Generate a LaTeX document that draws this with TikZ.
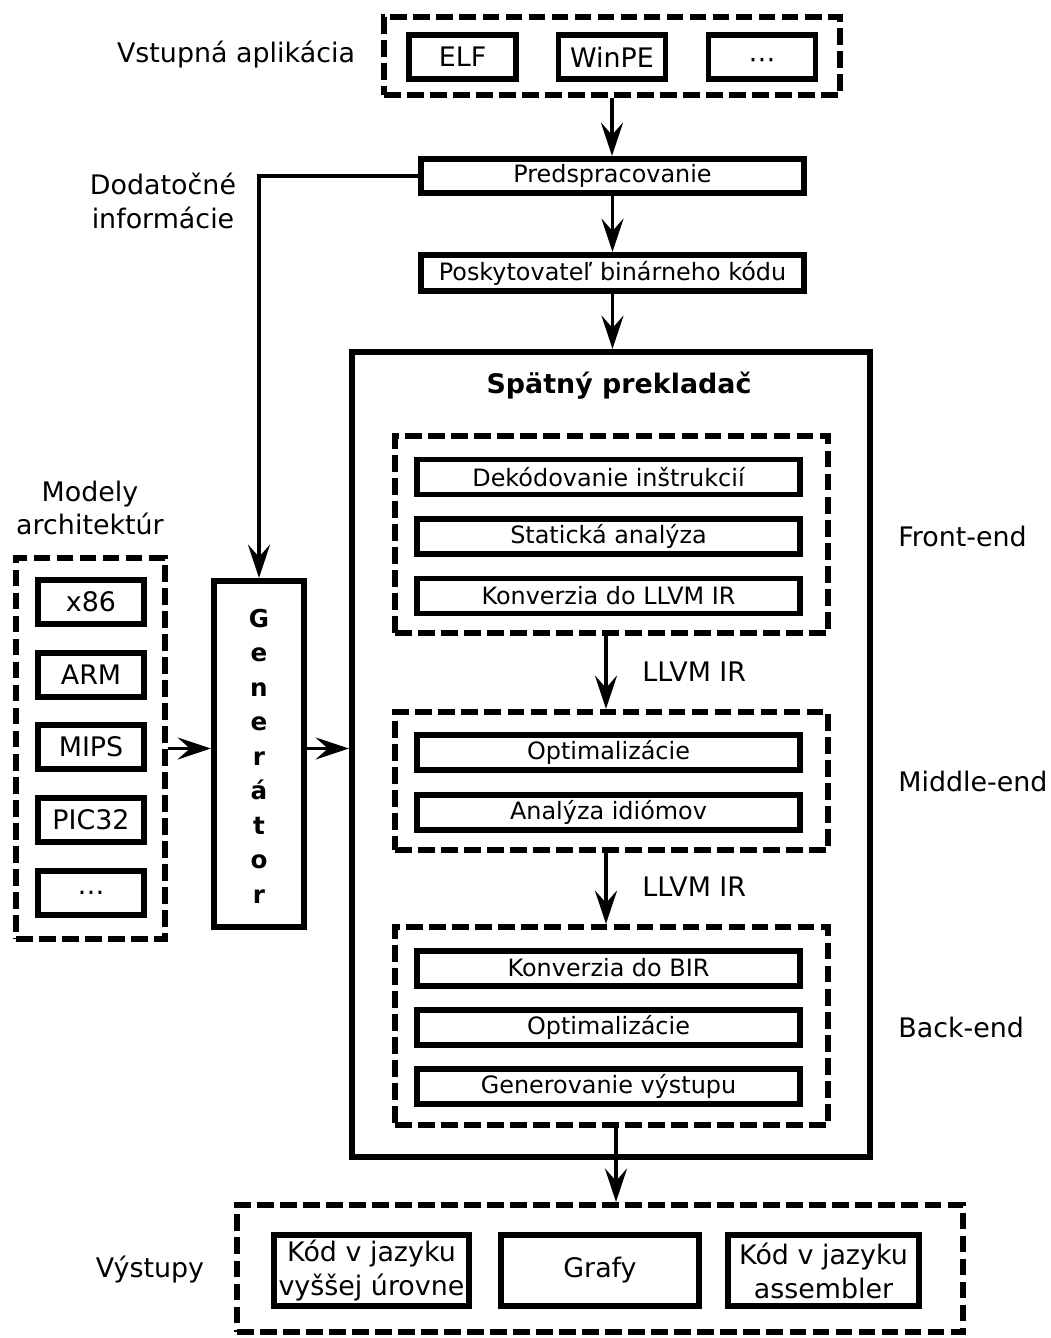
\documentclass[tikz,border=0pt]{standalone}
\usepackage{fontspec}
\setmainfont{DejaVu Sans}
\usetikzlibrary{arrows.meta}

\begin{document}
\begin{tikzpicture}[x=0.2mm,y=-0.2mm,
        box/.style 2 args={draw,line width=3.4pt,minimum width=#1*0.2mm,minimum height=#2*0.2mm,inner sep=0pt,align=center,font=\fontsize{15.3}{19.3}\selectfont},
        sbox/.style={box={383}{35},font=\fontsize{13.6}{16}\selectfont},
        grp/.style 2 args={draw,line width=3.4pt,dash pattern=on 9.5pt off 3.6pt,minimum width=#1*0.2mm,minimum height=#2*0.2mm,inner sep=0pt},
        lab/.style={font=\fontsize{15.3}{19.3}\selectfont,align=center,inner sep=0pt},
        arr/.style={-{Stealth[length=19pt,width=12.5pt,inset=7pt]},line width=2.2pt},
        genl/.style={font=\fontsize{14}{16}\bfseries,inner sep=0pt,anchor=base}]
    \useasboundingbox (0,0) rectangle (1051,1338);
    % vstup
    \node[grp={456}{78}] (inp) at (612,56) {};
    \node[box={107}{44}] (elf) at (462.5,57) {ELF};
    \node[box={107}{44}] (winpe) at (612,57) {WinPE};
    \node[box={107}{44}] (inmore) at (762,57) {};
    \node (inmoredots) at ([yshift=-1.2mm]inmore.center) {\fontsize{15.3}{19.3}\selectfont ⋯};
    \node[lab] (inlab) at (236,55) {Vstupná aplikácia};
    \node[box={383}{34},font=\fontsize{13.6}{16}\selectfont] (pre) at (612.5,176) {Predspracovanie};
    \node[box={383}{36},font=\fontsize{13.6}{16}\selectfont] (prov) at (612.5,273) {Poskytovateľ binárneho kódu};
    \node[lab] (addlab) at (163,201) {Dodatočné\\informácie};
    % spatny prekladac
    \node[box={518}{805}] (dec) at (611,754.5) {};
    \node[lab,font=\fontsize{15.3}{19.3}\bfseries] (declab) at (619,386) {Spätný prekladač};
    \node[grp={433}{197}] (front) at (611.5,534.5) {};
    \node[sbox] (f1) at (608.5,477) {Dekódovanie inštrukcií};
    \node[sbox] (f2) at (608.5,536.5) {Statická analýza};
    \node[sbox] (f3) at (608.5,596) {Konverzia do LLVM IR};
    \node[lab,anchor=west] (frontlab) at (898,536) {Front-end};
    \node[grp={433}{138}] (mid) at (611.5,781) {};
    \node[sbox] (m1) at (608.5,752.5) {Optimalizácie};
    \node[sbox] (m2) at (608.5,812.5) {Analýza idiómov};
    \node[lab,anchor=west] (midlab) at (898,781) {Middle-end};
    \node[grp={433}{198}] (back) at (611.5,1026) {};
    \node[sbox] (b1) at (608.5,968) {Konverzia do BIR};
    \node[sbox] (b2) at (608.5,1027) {Optimalizácie};
    \node[sbox] (b3) at (608.5,1086) {Generovanie výstupu};
    \node[lab,anchor=west] (backlab) at (898,1027) {Back-end};
    \node[lab,anchor=west] (ir1) at (642,672) {LLVM IR};
    \node[lab,anchor=west] (ir2) at (642,887) {LLVM IR};
    % vystupy
    \node[grp={726}{127}] (outs) at (600,1268.5) {};
    \node[box={195}{71}] (o1) at (371.5,1270.5) {Kód v jazyku\\vyššej úrovne};
    \node[box={198}{71}] (o2) at (600,1270.5) {Grafy};
    \node[box={191}{71}] (o3) at (823.5,1270.5) {Kód v jazyku\\assembler};
    \node[lab] (outlab) at (150,1270) {Výstupy};
    % modely
    \node[grp={149}{381}] (arch) at (90.5,748.5) {};
    \foreach \m/\y [count=\i] in {x86/602,ARM/675,MIPS/747,PIC32/820,\dots/893}
        \node[box={106}{44}] (a\i) at (91,\y) {\m};
    \node[lab] (archlab) at (90,508) {Modely\\architektúr};
    \node[box={90}{346}] (gen) at (259,754) {};
    \foreach \c [count=\i from 0] in {G,e,n,e,r,á,t,o,r}
        \node[genl] (g\i) at (259,627+\i*34.5) {\c};
    % sipky
    \draw[arr] (inp.south) -- (inp.south |- pre.north);
    \draw[arr] (pre.south) -- (prov.north);
    \draw[arr] (prov.south) -- (prov.south |- dec.north);
    \draw[arr] (pre.west) -| (gen.north);
    \draw[arr] (arch.east) -- (arch.east -| gen.west);
    \draw[arr] (arch.east -| gen.east) -- (arch.east -| dec.west);
    \draw[arr] ([xshift=-1.1mm]front.south) -- ([xshift=-1.1mm]front.south |- mid.north);
    \draw[arr] ([xshift=-1.1mm]mid.south) -- ([xshift=-1.1mm]mid.south |- back.north);
    \draw[arr] ([xshift=0.9mm]back.south) -- ([xshift=0.9mm]back.south |- outs.north);
\end{tikzpicture}
\end{document}
